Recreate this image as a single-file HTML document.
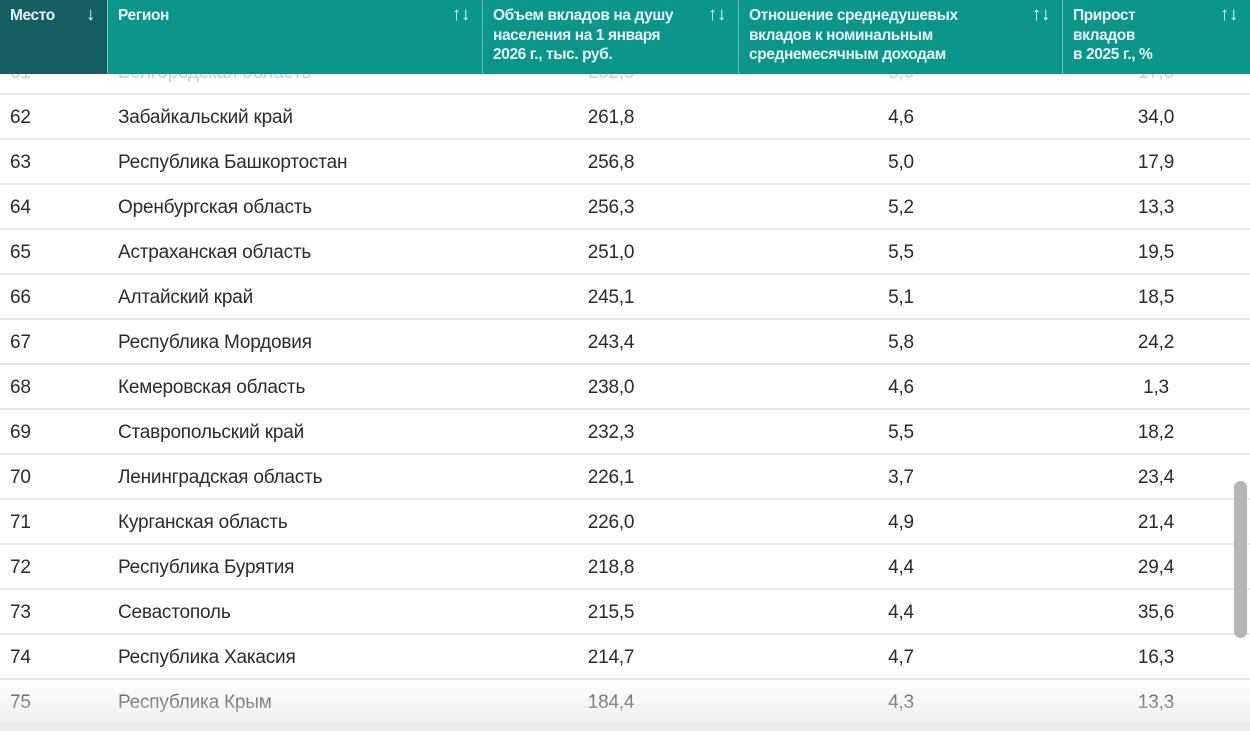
<!DOCTYPE html>
<html><head><meta charset="utf-8"><style>
body{margin:0;width:1250px;height:731px;overflow:hidden;background:#fff;font-family:"Liberation Sans",sans-serif;position:relative}
.hdr{position:absolute;top:0;left:0;width:1250px;height:74px;display:flex;z-index:3}
.hdr div{height:74px;background:#0c968a;color:#e6f5f3;font-size:15.5px;font-weight:bold;letter-spacing:-0.4px;line-height:19.5px;padding:6px 0 0 10px;box-sizing:border-box;position:relative;border-right:1px solid #6fc2b8}
.hdr div span.s{position:absolute;right:12px;top:5px;font-size:19px;font-weight:normal}
.row{position:absolute;left:0;width:1250px;height:45px;border-bottom:2px solid #e6e6e6;box-sizing:border-box;font-size:19px;color:#2b2b2b;letter-spacing:-0.2px}
.row span{position:absolute;top:12px}
.c1{left:10px}.c2{left:118px}
.c3,.c4,.c5{transform:translateX(-50%)}
.c3{left:611px}.c4{left:901px}.c5{left:1156px}
.fade{position:absolute;left:0;top:672px;width:1250px;height:59px;background:linear-gradient(rgba(255,255,255,0),rgba(236,236,236,.9));z-index:2}
.sb{position:absolute;left:1234px;top:481px;width:13px;height:157px;background:#b5b5b5;border-radius:7px;z-index:4}
</style></head><body>
<div class="hdr">
<div style="width:108px;background:#155e62">Место<span class="s">↓</span></div>
<div style="width:375px">Регион<span class="s">↑↓</span></div>
<div style="width:256px">Объем вкладов на душу<br>населения на 1 января<br>2026 г., тыс. руб.<span class="s">↑↓</span></div>
<div style="width:324px">Отношение среднедушевых<br>вкладов к номинальным<br>среднемесячным доходам<span class="s">↑↓</span></div>
<div style="width:187px;border-right:none">Прирост<br>вкладов<br>в 2025 г., %<span class="s">↑↓</span></div>
</div>
<div id="rows"></div>
<div class="fade"></div>
<div class="sb"></div>
<script>
const ranks=[61,62,63,64,65,66,67,68,69,70,71,72,73,74,75];
const regions=["Белгородская область","Забайкальский край","Республика Башкортостан","Оренбургская область","Астраханская область","Алтайский край","Республика Мордовия","Кемеровская область","Ставропольский край","Ленинградская область","Курганская область","Республика Бурятия","Севастополь","Республика Хакасия","Республика Крым"];
const deposits=["262,0","261,8","256,8","256,3","251,0","245,1","243,4","238,0","232,3","226,1","226,0","218,8","215,5","214,7","184,4"];
const ratios=["5,0","4,6","5,0","5,2","5,5","5,1","5,8","4,6","5,5","3,7","4,9","4,4","4,4","4,7","4,3"];
const growth=["17,0","34,0","17,9","13,3","19,5","18,5","24,2","1,3","18,2","23,4","21,4","29,4","35,6","16,3","13,3"];
const host=document.getElementById('rows');
ranks.forEach((r,i)=>{
 const d=document.createElement('div');
 d.className='row';
 
 
 d.style.top=(50+i*45)+'px';
 if(i===0){d.style.color='#ccc';}
 d.innerHTML='<span class="c1">'+r+'</span><span class="c2">'+regions[i]+'</span><span class="c3">'+deposits[i]+'</span><span class="c4">'+ratios[i]+'</span><span class="c5">'+growth[i]+'</span>';
 host.appendChild(d);
});
</script>
</body></html>
